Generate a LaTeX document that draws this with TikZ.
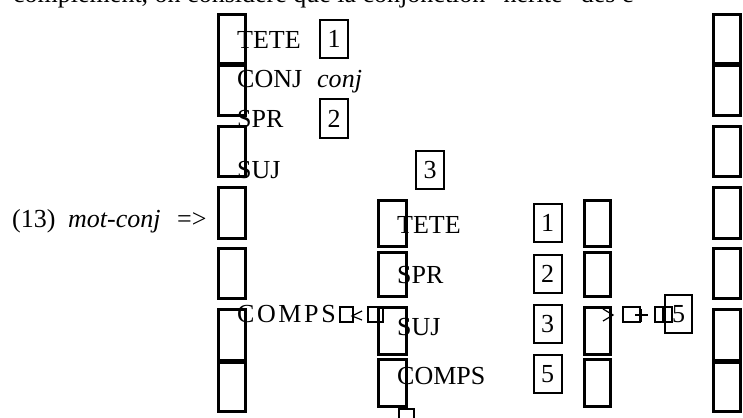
\documentclass[tikz,border=0pt]{standalone}
\usepackage{fontspec}
\setmainfont{Liberation Serif}
\begin{document}
\begin{tikzpicture}[x=1pt,y=-1pt,
  br/.style={line width=3pt},
  num/.style={draw,line width=2pt,minimum width=28pt,minimum height=38pt,inner sep=0pt,font=\fontsize{26}{26}\selectfont},
  lbl/.style={anchor=base west,inner sep=0pt,font=\fontsize{26}{26}\selectfont},
  tofu/.style={draw,line width=1.5pt,inner sep=0pt},
  thin/.style={line width=1.2pt}]
\useasboundingbox (0,0) rectangle (743,417);
\clip (0,0) rectangle (743,417);
% cut-off line of running text
\node[lbl] (toptext) at (13,2.5) {complément, on considère que la conjonction “hérite” des c};
% outer bracket columns
\foreach \xa/\xb in {218.5/245.5, 713.5/740.5}{
  \foreach \ya/\yb in {14.5/63.5, 65.5/115.5, 126.5/176.5, 187.5/238.5, 248.5/298.5, 309.5/360.5, 362.5/411.5}{
    \draw[br] (\xa,\ya) rectangle (\xb,\yb);
  }
}
% inner bracket columns
\foreach \xa/\xb in {378.5/406.5, 584.5/610.5}{
  \foreach \ya/\yb in {200.5/246.5, 252.5/296.5, 307.5/354.5, 359.5/406.5}{
    \draw[br] (\xa,\ya) rectangle (\xb,\yb);
  }
}
\draw[line width=1.5pt] (399,409) rectangle (414,425);
% outer labels
\node[lbl] (tete) at (237,48.5) {TETE};
\node[num] (n1) at (334,39) {1};
\node[lbl] (conjl) at (237,88) {CONJ};
\node[lbl] (conjv) at (317,88) {\itshape conj};
\node[lbl] (spr) at (237,128) {SPR};
\node[num] (n2) at (334,118.5) {2};
\node[lbl] (suj) at (237,178) {SUJ};
\node[num] (n3) at (430,170) {3};
\node[lbl] (exnum) at (12,227) {(13)};
\node[lbl] (exname) at (68,227) {\itshape mot-conj};
\node[lbl] (exarrow) at (177,227) {=>};
\node[lbl] (comps) at (237,322) {\addfontfeature{LetterSpace=10}COMPS};
% inner labels
\node[lbl] (itete) at (397,233) {TETE};
\node[num] (i1) at (547.5,223) {1};
\node[lbl] (ispr) at (397,283) {SPR};
\node[num] (i2) at (547.5,274) {2};
\node[lbl] (isuj) at (397,335) {SUJ};
\node[num] (i3) at (547.5,324) {3};
\node[lbl] (icomps) at (397,384) {COMPS};
\node[num] (i5) at (547.5,374) {5};
% missing-glyph boxes, left
\node[tofu,minimum width=13pt,minimum height=15pt] (t1) at (346.5,314.5) {};
\draw[thin] (362,311) -- (352,316) -- (362,320);
\node[tofu,minimum width=15pt,minimum height=15pt] (t2) at (375.5,314.5) {};
% missing-glyph boxes, right
\draw[thin] (603,309) -- (613,315) -- (603,321);
\node[tofu,minimum width=17pt,minimum height=15pt] (t3) at (631.5,314.5) {};
\draw[thin] (635,315) -- (648,315);
\draw[thin] (641,309) -- (641,322);
\node[tofu,minimum width=8pt,minimum height=15pt] (t4) at (659,314.5) {};
\node[tofu,minimum width=9pt,minimum height=15pt] (t5) at (667.5,314.5) {};
\node[num,line width=1.5pt,minimum width=27pt] (b5) at (678.5,314) {5};
\end{tikzpicture}
\end{document}
